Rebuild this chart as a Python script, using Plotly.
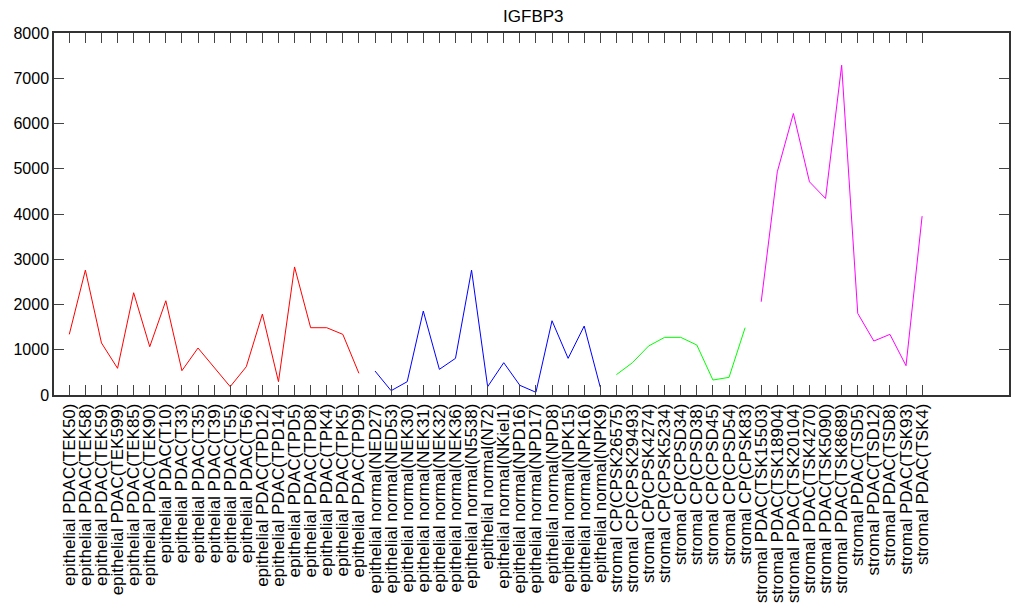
import plotly.graph_objects as go

epi_pdac_labels = ["TEK50", "TEK58", "TEK59", "TEK599", "TEK85", "TEK90", "T10", "T33", "T35", "T39",
                   "T55", "T56", "TPD12", "TPD14", "TPD5", "TPD8", "TPK4", "TPK5", "TPD9"]
epi_pdac_values = [1340, 2760, 1150, 590, 2260, 1067, 2083, 537, 1038, 611,
                   184, 625, 1789, 294, 2830, 1487, 1487, 1340, 479]

epi_normal_labels = ["NED27", "NED53", "NEK30", "NEK31", "NEK32", "NEK36", "N5538", "N72", "NKiel1",
                     "NPD16", "NPD17", "NPD8", "NPK15", "NPK16", "NPK9"]
epi_normal_values = [530, 95, 294, 1855, 567, 810, 2760, 184, 714, 214, 60, 1641, 810, 1524, 170]

str_cp_labels = ["CPSK26575", "CPSK29493", "CPSK4274", "CPSK5234", "CPSD34", "CPSD38", "CPSD45",
                 "CPSD54", "CPSK83"]
str_cp_values = [449, 714, 1082, 1274, 1274, 1104, 331, 390, 1487]

str_pdac_labels = ["TSK15503", "TSK18904", "TSK20104", "TSK4270", "TSK5090", "TSK8689", "TSD5",
                   "TSD12", "TSD8", "TSK93", "TSK4"]
str_pdac_values = [2061, 4932, 6221, 4711, 4343, 7288, 1804, 1193, 1340, 648, 3953]

groups = [
    ("epithelial PDAC", epi_pdac_labels, epi_pdac_values, "#ff0000"),
    ("epithelial normal", epi_normal_labels, epi_normal_values, "#0000ff"),
    ("stromal CP", str_cp_labels, str_cp_values, "#00ff00"),
    ("stromal PDAC", str_pdac_labels, str_pdac_values, "#ff00ff"),
]

fig = go.Figure()
tickvals, ticktext = [], []
idx = 0
for name, labels, values, color in groups:
    xs = list(range(idx, idx + len(labels)))
    fig.add_trace(go.Scatter(x=xs, y=values, mode="lines", name=name,
                             line=dict(color=color, width=1)))
    tickvals += xs
    ticktext += [f"{name}({l})" for l in labels]
    idx += len(labels)

font_family = "Liberation Sans, Arial, sans-serif"
fig.update_layout(
    width=1012, height=611,
    margin=dict(l=54, r=1, t=33, b=216),
    paper_bgcolor="white", plot_bgcolor="white",
    showlegend=False,
    title=dict(text="IGFBP3", x=0.527, xanchor="center", y=0.974, yanchor="middle",
               font=dict(family=font_family, size=17, color="black")),
    font=dict(family=font_family, color="black"),
)
fig.update_xaxes(
    range=[-0.95, 58.4], tickmode="array", tickvals=tickvals, ticktext=ticktext,
    tickangle=-90, tickfont=dict(size=17, family=font_family, color="black"),
    ticks="inside", ticklen=10, tickcolor="#444", tickwidth=1,
    showline=True, linecolor="#333", linewidth=1.5, mirror="ticks",
    showgrid=False, zeroline=False,
)
fig.update_yaxes(
    range=[0, 8000], tickmode="array", tickvals=list(range(0, 8001, 1000)),
    tickfont=dict(size=16, family=font_family, color="black"),
    ticks="inside", ticklen=10, tickcolor="#444", tickwidth=1,
    showline=True, linecolor="#333", linewidth=1.5, mirror="ticks",
    showgrid=False, zeroline=False,
)

fig.write_html("out.html")
